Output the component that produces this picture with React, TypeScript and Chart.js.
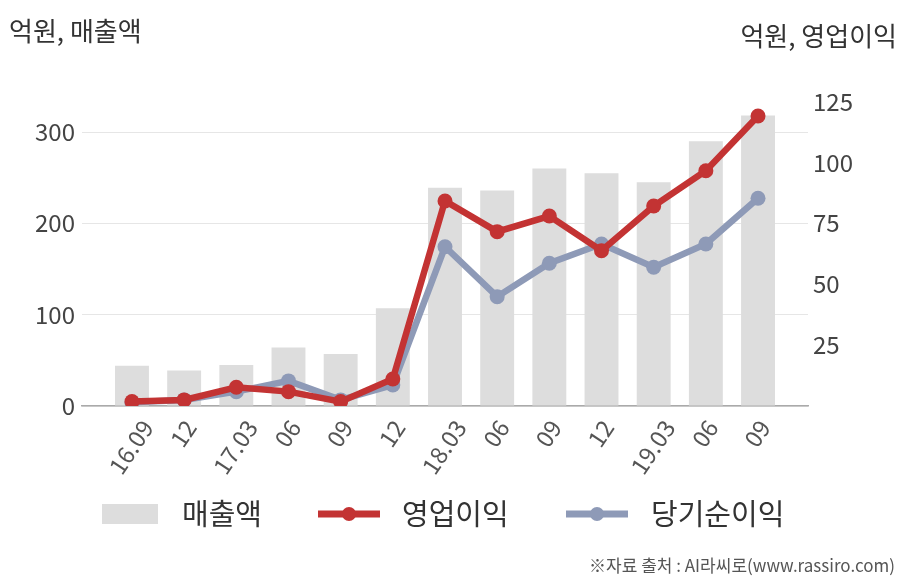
import React, { useEffect, useRef } from 'react';
import { Chart, registerables } from 'chart.js';

Chart.register(...registerables);

const categories = ['16.09', '12', '17.03', '06', '09', '12', '18.03', '06', '09', '12', '19.03', '06', '09'];
const revenue = [44, 39, 45, 64, 57, 107, 239, 236, 260, 255, 245, 290, 318];
const operatingProfit = [1.8, 2.5, 7.7, 5.9, 1.8, 11.1, 84.2, 71.6, 78, 63.8, 82.1, 96.6, 119.1];
const netProfit = [1.5, 2.5, 5.9, 10.3, 2.5, 8.6, 65.4, 44.9, 58.6, 66.5, 57, 66.5, 85.3];
const leftTicks = [0, 100, 200, 300];
const rightTicks = [25, 50, 75, 100, 125];
const seriesNames = ['매출액', '영업이익', '당기순이익'];
const leftTitle = '억원, 매출액';
const rightTitle = '억원, 영업이익';
const sourceText = '※자료 출처 : AI라씨로(www.rassiro.com)';

const FONT = "'Noto Sans CJK KR', 'Noto Sans', sans-serif";
const BAR_COLOR = '#dddddd';
const RED = '#c33333';
const BLUE = '#8e9ab7';
const LABEL_ANGLE = 56;

const decorPlugin = {
  id: 'decor',
  afterDraw(chart: any) {
    const ctx = chart.ctx;
    ctx.save();

    // rotated x labels, centred on each tick
    const xs = chart.scales.x;
    const a = (LABEL_ANGLE * Math.PI) / 180;
    const fs = 23.5;
    ctx.font = `${fs}px ${FONT}`;
    ctx.fillStyle = '#555';
    ctx.textAlign = 'center';
    ctx.textBaseline = 'middle';
    categories.forEach((lab, i) => {
      const x = xs.getPixelForValue(i);
      const w = ctx.measureText(lab).width;
      const h = fs * 0.72;
      const top = xs.top + 12;
      const cy = top + (w * Math.sin(a) + h * Math.cos(a)) / 2;
      ctx.save();
      ctx.translate(x - 1, cy);
      ctx.rotate(-a);
      ctx.fillText(lab, 0, 0);
      ctx.restore();
    });

    ctx.fillStyle = '#333';
    ctx.font = `26px ${FONT}`;
    ctx.textBaseline = 'middle';
    ctx.textAlign = 'left';
    ctx.fillText(leftTitle, 9, 31);
    ctx.textAlign = 'right';
    ctx.fillText(rightTitle, 897, 36);

    // legend
    const ly = 514;
    ctx.fillStyle = BAR_COLOR;
    ctx.fillRect(102, 504, 56, 20);
    const drawLine = (x0: number, x1: number, color: string) => {
      ctx.strokeStyle = color;
      ctx.lineWidth = 7;
      ctx.beginPath();
      ctx.moveTo(x0, ly);
      ctx.lineTo(x1, ly);
      ctx.stroke();
      ctx.fillStyle = color;
      ctx.beginPath();
      ctx.arc((x0 + x1) / 2, ly, 7, 0, Math.PI * 2);
      ctx.fill();
    };
    drawLine(318, 380, RED);
    drawLine(566, 628, BLUE);
    ctx.fillStyle = '#333';
    ctx.font = `29px ${FONT}`;
    ctx.textAlign = 'left';
    ctx.fillText(seriesNames[0], 182, ly);
    ctx.fillText(seriesNames[1], 402, ly);
    ctx.fillText(seriesNames[2], 651, ly);

    ctx.font = `17px ${FONT}`;
    ctx.fillStyle = '#555';
    ctx.textAlign = 'right';
    ctx.fillText(sourceText, 895, 566);
    ctx.restore();
  },
};

export default function App() {
  const ref = useRef<HTMLCanvasElement>(null);
  useEffect(() => {
    document.body.style.margin = '0';
    const toPts = (arr: number[]) => arr.map((v, i) => ({ x: i, y: v }));
    const chart = new Chart(ref.current as HTMLCanvasElement, {
      type: 'bar',
      data: {
        datasets: [
          {
            type: 'line',
            label: seriesNames[1],
            data: toPts(operatingProfit),
            yAxisID: 'y1',
            borderColor: RED,
            backgroundColor: RED,
            borderWidth: 6.5,
            pointRadius: 7.5,
            pointBorderWidth: 0,
            pointBackgroundColor: RED,
            order: 1,
          } as any,
          {
            type: 'line',
            label: seriesNames[2],
            data: toPts(netProfit),
            yAxisID: 'y1',
            borderColor: BLUE,
            backgroundColor: BLUE,
            borderWidth: 6.5,
            pointRadius: 7.5,
            pointBorderWidth: 0,
            pointBackgroundColor: BLUE,
            order: 2,
          } as any,
          {
            type: 'bar',
            label: seriesNames[0],
            data: toPts(revenue),
            yAxisID: 'y',
            backgroundColor: BAR_COLOR,
            barPercentage: 0.65,
            categoryPercentage: 1,
            order: 3,
          } as any,
        ],
      },
      options: {
        responsive: false,
        animation: false,
        layout: { padding: { top: 101.6, left: 0, right: 0, bottom: 0 } },
        plugins: { legend: { display: false }, tooltip: { enabled: false } },
        scales: {
          x: {
            type: 'linear',
            offset: false,
            min: -0.958,
            max: 12.958,
            afterFit: (s: any) => { s.height = 174; },
            afterBuildTicks: (s: any) => { s.ticks = categories.map((_, i) => ({ value: i })); },
            grid: { display: false, drawTicks: false },
            border: { display: true, color: '#aaaaaa', width: 1.5 },
            ticks: { display: false },
          },
          y: {
            type: 'linear',
            position: 'left',
            min: 0,
            max: 333.33,
            afterFit: (s: any) => { s.width = 82; },
            afterBuildTicks: (s: any) => { s.ticks = leftTicks.map((v) => ({ value: v })); },
            grid: { color: '#e6e6e6', lineWidth: 1, drawTicks: false },
            border: { display: false },
            ticks: { padding: 7, color: '#444', font: { family: FONT, size: 24 } },
          },
          y1: {
            type: 'linear',
            position: 'right',
            min: 0,
            max: 125,
            afterFit: (s: any) => { s.width = 100; },
            afterBuildTicks: (s: any) => { s.ticks = rightTicks.map((v) => ({ value: v })); },
            grid: { display: false, drawTicks: false },
            border: { display: false },
            ticks: { padding: 5, color: '#444', font: { family: FONT, size: 24 } },
          },
        },
      } as any,
      plugins: [decorPlugin],
    });
    return () => chart.destroy();
  }, []);
  return (
    <div style={{ position: 'absolute', left: 0, top: 0, width: 908, height: 580, background: '#fff' }}>
      <canvas ref={ref} width={908} height={580} />
    </div>
  );
}
